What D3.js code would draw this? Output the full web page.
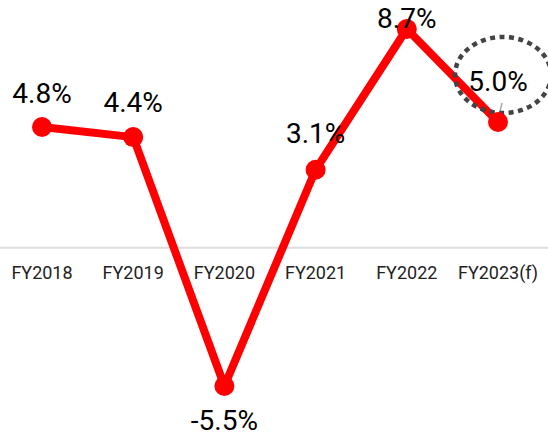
<!DOCTYPE html>
<html lang="en">
<head>
    <meta charset="UTF-8">
    <title>GDP growth</title>
    <script src="https://d3js.org/d3.v7.min.js"></script>
    <style>
        body { margin: 0; background: #fff; }
        text { font-family: Roboto, "Noto Sans", sans-serif; }
    </style>
</head>
<body>
    <script>
        var width = 548;
        var height = 436;

        var years = ["FY2018", "FY2019", "FY2020", "FY2021", "FY2022", "FY2023(f)"];
        var growth = [4.8, 4.4, -5.5, 3.1, 8.7, 5.0];
        var labels = ["4.8%", "4.4%", "-5.5%", "3.1%", "8.7%", "5.0%"];

        var data = years.map(function(y, i) {
            return { year: y, value: growth[i], label: labels[i] };
        });

        var svg = d3.select("body")
            .append("svg")
            .attr("width", width)
            .attr("height", height);

        var x = d3.scalePoint()
            .domain(years)
            .range([42, 498]);

        var y = d3.scaleLinear()
            .domain([-5.5, 8.7])
            .range([386, 29]);

        // zero line
        svg.append("line")
            .attr("x1", 0)
            .attr("x2", width)
            .attr("y1", y(0))
            .attr("y2", y(0))
            .attr("stroke", "#dddddd")
            .attr("stroke-width", 2);

        // year labels
        svg.selectAll(".year")
            .data(data)
            .enter()
            .append("text")
            .attr("class", "year")
            .attr("x", function(d) { return x(d.year); })
            .attr("y", 279)
            .attr("text-anchor", "middle")
            .attr("font-size", "18px")
            .attr("fill", "#222")
            .text(function(d) { return d.year; });

        var line = d3.line()
            .x(function(d) { return x(d.year); })
            .y(function(d) { return y(d.value); });

        svg.append("path")
            .datum(data)
            .attr("fill", "none")
            .attr("stroke", "#ff0000")
            .attr("stroke-width", 8)
            .attr("stroke-linejoin", "round")
            .attr("d", line);

        // forecast highlight
        var last = data[data.length - 1];
        svg.append("line")
            .attr("x1", x(last.year) + 4)
            .attr("x2", x(last.year))
            .attr("y1", y(last.value) - 19)
            .attr("y2", y(last.value) - 2)
            .attr("stroke", "#aaa")
            .attr("stroke-width", 1.5);

        svg.append("ellipse")
            .attr("cx", x(last.year) + 5)
            .attr("cy", 75)
            .attr("rx", 48)
            .attr("ry", 38)
            .attr("fill", "none")
            .attr("stroke", "#444")
            .attr("stroke-width", 4.5)
            .attr("stroke-dasharray", "5,4.5");

        svg.selectAll(".dot")
            .data(data)
            .enter()
            .append("circle")
            .attr("class", "dot")
            .attr("cx", function(d) { return x(d.year); })
            .attr("cy", function(d) { return y(d.value); })
            .attr("r", 10)
            .attr("fill", "#ff0000");

        // value labels
        var offsets = [-24, -25, 44, -27, -1, -31];
        svg.selectAll(".val")
            .data(data)
            .enter()
            .append("text")
            .attr("class", "val")
            .attr("x", function(d) { return x(d.year); })
            .attr("y", function(d, i) { return y(d.value) + offsets[i]; })
            .attr("text-anchor", "middle")
            .attr("font-size", "28px")
            .attr("fill", "#000")
            .text(function(d) { return d.label; });
    </script>
</body>
</html>
